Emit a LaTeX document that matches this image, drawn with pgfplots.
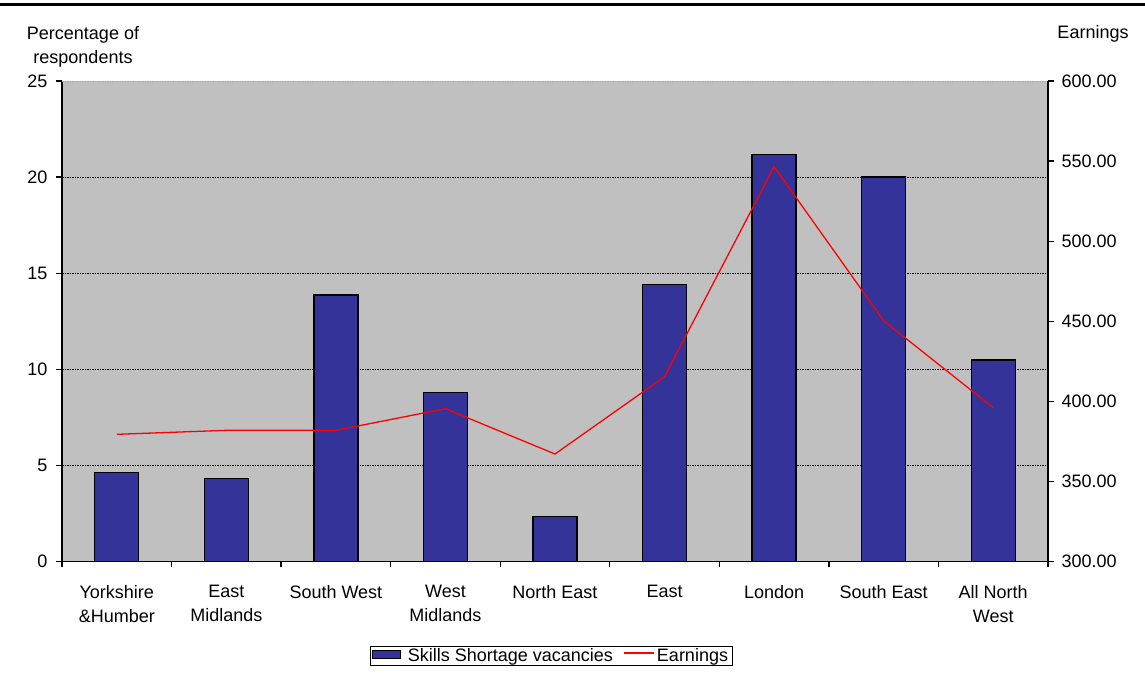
\documentclass[border=0pt]{standalone}
\usepackage{pgfplots}
\pgfplotsset{compat=1.18}
\usepackage{fontspec}
\setmainfont{Liberation Sans}
\definecolor{barblue}{HTML}{333399}
\definecolor{plotgray}{HTML}{C0C0C0}
\newcommand{\cfont}{\fontsize{18}{24}\selectfont}
\begin{document}
\begin{tikzpicture}[x=1pt,y=1pt]
\useasboundingbox (0,0) rectangle (1145,674);
\draw[line width=3pt] (0,669) -- (1145,669);
\node[align=center,font=\cfont] at (83,627) {Percentage of\\respondents};
\node[font=\cfont] at (1093,640) {Earnings};
\begin{axis}[
  at={(62pt,112.5pt)}, anchor=south west, scale only axis,
  width=986pt, height=480.5pt,
  xmin=-0.5, xmax=8.5, ymin=0, ymax=25,
  axis background/.style={fill=plotgray},
  axis y line*=left, axis x line*=bottom,
  axis line style={line width=1.3pt},
  ybar, bar width=44pt,
  ytick={0,5,...,20},
  extra y ticks={25},
  extra y tick style={grid style={gray!70, line width=0.6pt, dash pattern=on 1.5pt off 1pt}},
  ymajorgrids, grid style={black, line width=0.6pt, dash pattern=on 1.5pt off 1pt},
  xtick={0,...,8},
  minor xtick={-0.5,0.5,...,8.5},
  major x tick style={draw=none},
  tick align=outside, major tick length=6pt, minor tick length=6pt,
  tick style={black, line width=1.3pt},
  xticklabels={{Yorkshire\\\&Humber},{East\\Midlands},{South West},{West\\Midlands},{North East},{East},{London},{South East},{All North\\West}},
  xticklabel style={align=center, font=\cfont, anchor=north, yshift=-14pt},
  yticklabel style={font=\cfont, xshift=-5pt},
  /pgf/number format/assume math mode=true,
]
\addplot[fill=barblue, draw=black, line width=1.3pt] coordinates {
(0,4.64) (1,4.33) (2,13.87) (3,8.80) (4,2.35) (5,14.42) (6,21.19) (7,20.0) (8,10.48)};
\end{axis}
\begin{axis}[
  at={(62pt,112.5pt)}, anchor=south west, scale only axis,
  width=986pt, height=480.5pt,
  xmin=-0.5, xmax=8.5, ymin=300, ymax=600,
  axis y line*=right, axis x line=none,
  axis line style={line width=1.3pt},
  ytick={300,350,...,600},
  tick align=outside, major tick length=6pt,
  tick style={black, line width=1.3pt},
  yticklabel style={font=\cfont, xshift=4pt, /pgf/number format/.cd, fixed, fixed zerofill, precision=2},
  /pgf/number format/assume math mode=true,
  legend style={at={(0.496,-0.1956)}, anchor=center, font=\cfont, legend columns=2, /tikz/every even column/.append style={column sep=8pt}, inner ysep=0pt, inner xsep=2pt},
  legend image code/.code={\draw[#1, line width=2pt] (0pt,2pt) -- (30pt,2pt);},
]
\addlegendimage{legend image code/.code={\draw[fill=barblue, draw=black, line width=1.2pt] (0pt,-3pt) rectangle (28pt,5pt); \path (33pt,0pt);}}
\addlegendentry{Skills Shortage vacancies}
\addplot[red, line width=1.3pt] coordinates {
(0,379.4) (1,381.9) (2,381.9) (3,395.4) (4,367.1) (5,415.4) (6,546.5) (7,450.3) (8,396.0)};
\addlegendentry{Earnings}
\end{axis}
\end{tikzpicture}
\end{document}
